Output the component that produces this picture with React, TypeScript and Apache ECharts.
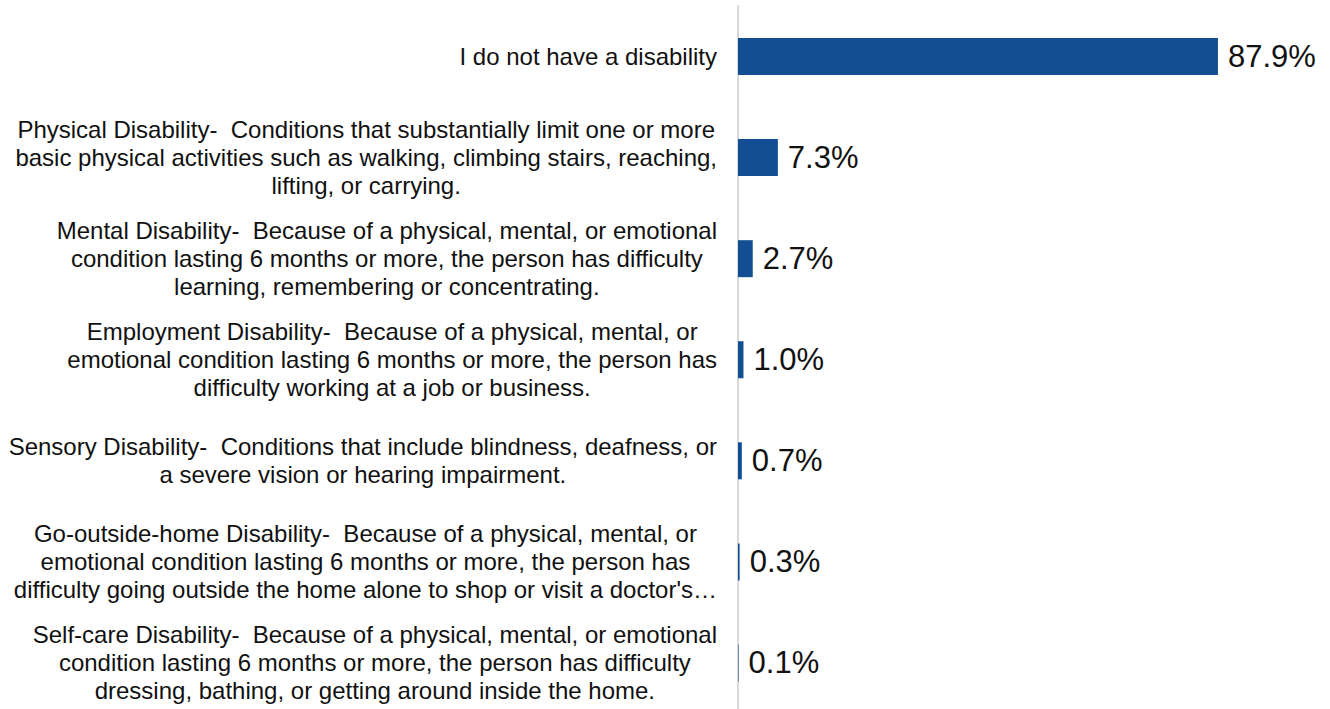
import React, { useEffect, useRef } from "react";
import * as echarts from "echarts";

const categoryLines: string[][] = [
  ["I do not have a disability"],
  [
    "Physical Disability-  Conditions that substantially limit one or more",
    "basic physical activities such as walking, climbing stairs, reaching,",
    "lifting, or carrying.",
  ],
  [
    "Mental Disability-  Because of a physical, mental, or emotional",
    "condition lasting 6 months or more, the person has difficulty",
    "learning, remembering or concentrating.",
  ],
  [
    "Employment Disability-  Because of a physical, mental, or",
    "emotional condition lasting 6 months or more, the person has",
    "difficulty working at a job or business.",
  ],
  [
    "Sensory Disability-  Conditions that include blindness, deafness, or",
    "a severe vision or hearing impairment.",
  ],
  [
    "Go-outside-home Disability-  Because of a physical, mental, or",
    "emotional condition lasting 6 months or more, the person has",
    "difficulty going outside the home alone to shop or visit a doctor's…",
  ],
  [
    "Self-care Disability-  Because of a physical, mental, or emotional",
    "condition lasting 6 months or more, the person has difficulty",
    "dressing, bathing, or getting around inside the home.",
  ],
];

const categories: string[] = categoryLines.map((l) => l.join("\n"));
const values: number[] = [87.9, 7.3, 2.7, 1.0, 0.7, 0.3, 0.1];

export default function App() {
  const ref = useRef<HTMLDivElement>(null);
  useEffect(() => {
    if (!ref.current) return;
    const chart = echarts.init(ref.current, undefined, { renderer: "svg" });
    chart.setOption({
      animation: false,
      backgroundColor: "#ffffff",
      grid: { left: 738, right: 46, top: 6, bottom: 6.5, containLabel: false },
      xAxis: {
        type: "value",
        min: 0,
        max: 100,
        show: false,
      },
      yAxis: {
        type: "category",
        inverse: true,
        data: categories,
        axisLine: { show: true, lineStyle: { color: "#d9d9d9", width: 2 } },
        axisTick: { show: false },
        axisLabel: {
          margin: 21,
          align: "right",
          formatter: (v: string) =>
            v
              .split("\n")
              .map((s) => "{c|" + s + "}")
              .join("\n"),
          rich: {
            c: {
              align: "center",
              fontSize: 24,
              lineHeight: 28,
              color: "#111111",
              fontFamily: "Liberation Sans, Arial, sans-serif",
            },
          },
        },
      },
      series: [
        {
          type: "bar",
          data: values,
          barWidth: 37,
          itemStyle: { color: "#124e91" },
          label: {
            show: true,
            position: "right",
            distance: 10,
            formatter: (p: any) => p.value.toFixed(1) + "%",
            fontSize: 31,
            color: "#111111",
            fontFamily: "Liberation Sans, Arial, sans-serif",
          },
        },
      ],
    });
    return () => chart.dispose();
  }, []);
  return (
    <div
      ref={ref}
      style={{ position: "fixed", left: 0, top: 0, width: 1330, height: 720, background: "#fff" }}
    />
  );
}
